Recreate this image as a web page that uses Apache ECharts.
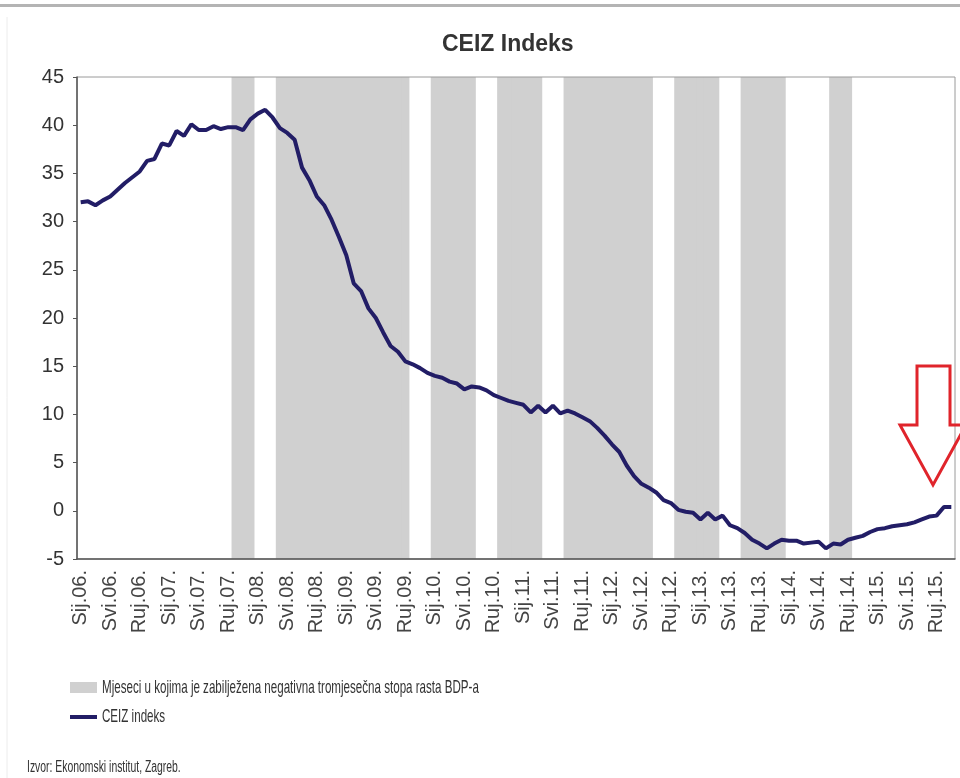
<!DOCTYPE html>
<html>
<head>
<meta charset="utf-8">
<script src="https://cdn.jsdelivr.net/npm/echarts@6/dist/echarts.min.js"></script>
<style>
html,body{margin:0;padding:0;background:#fff;}
#chart{width:960px;height:778px;}
</style>
</head>
<body>
<div id="chart"></div>
<script>
// Month abbreviations (Croatian) and years used to build the monthly categories
const monthAbbr = ['Sij','Velj','Ožu','Tra','Svi','Lip','Srp','Kol','Ruj','Lis','Stu','Pro'];
const years = ['06','07','08','09','10','11','12','13','14','15'];
const lastMonthCount = 119; // Sij.06. – Stu.15.

// CEIZ indeks, monthly values from Sij.06.
const ceizValues = [
  32.0, 32.1, 31.7, 32.2, 32.6, 33.3, 34.0, 34.6, 35.2, 36.3, 36.5, 38.1,
  37.9, 39.4, 38.9, 40.1, 39.5, 39.5, 39.9, 39.6, 39.8, 39.8, 39.5, 40.6,
  41.2, 41.6, 40.8, 39.7, 39.2, 38.5, 35.6, 34.3, 32.6, 31.7, 30.2, 28.4,
  26.5, 23.6, 22.8, 21.0, 20.0, 18.5, 17.1, 16.5, 15.5, 15.2, 14.8, 14.3,
  14.0, 13.8, 13.4, 13.2, 12.6, 12.9, 12.8, 12.5, 12.0, 11.7, 11.4, 11.2,
  11.0, 10.2, 10.9, 10.2, 10.9, 10.1, 10.4, 10.1, 9.7, 9.3, 8.6, 7.8,
  6.9, 6.1, 4.7, 3.6, 2.8, 2.4, 1.9, 1.1, 0.8, 0.1, -0.1, -0.2,
  -0.9, -0.2, -0.9, -0.5, -1.5, -1.8, -2.3, -3.0, -3.4, -3.9, -3.4, -3.0,
  -3.1, -3.1, -3.4, -3.3, -3.2, -3.9, -3.4, -3.5, -3.0, -2.8, -2.6, -2.2,
  -1.9, -1.8, -1.6, -1.5, -1.4, -1.2, -0.9, -0.6, -0.5, 0.4, 0.4
];

// Months with a negative quarter-on-quarter GDP growth rate (first, last)
const negativeGdpPeriods = [
  ['Lis.07.', 'Pro.07.'],
  ['Tra.08.', 'Ruj.09.'],
  ['Sij.10.', 'Lip.10.'],
  ['Lis.10.', 'Ožu.11.'],
  ['Srp.11.', 'Lip.12.'],
  ['Lis.12.', 'Ožu.13.'],
  ['Srp.13.', 'Pro.13.'],
  ['Srp.14.', 'Ruj.14.']
];

const yTicks = { min: -5, max: 45, interval: 5 };
const titleText = 'CEIZ Indeks';
const bandName = 'Mjeseci u kojima je zabilježena negativna tromjesečna stopa rasta BDP-a';
const lineName = 'CEIZ indeks';
const sourceText = 'Izvor: Ekonomski institut, Zagreb.';

// build categories
const categories = [];
years.forEach(y => monthAbbr.forEach(m => categories.push(m + '.' + y + '.')));
categories.length = lastMonthCount;

const bandFlags = categories.map(() => '-');
negativeGdpPeriods.forEach(([a, b]) => {
  const s = categories.indexOf(a), e = categories.indexOf(b);
  for (let i = s; i <= e; i++) bandFlags[i] = 1;
});

const font = 'Liberation Sans, Arial, sans-serif';
const bandColor = '#d0d0d0';
const lineColor = '#221d66';

const chart = echarts.init(document.getElementById('chart'), null, { renderer: 'canvas' });
chart.setOption({
  backgroundColor: '#ffffff',
  animation: false,
  title: { text: titleText, left: 437, top: 28,
    textStyle: { fontFamily: font, fontSize: 23, fontWeight: 'bold', color: '#333' } },
  grid: { left: 77, right: 5, top: 77, bottom: 219, show: true, z: 3,
          borderColor: '#9a9a9a', borderWidth: 1, backgroundColor: 'transparent' },
  xAxis: {
    type: 'category', data: categories, boundaryGap: true, z: 5,
    axisLine: { onZero: false, lineStyle: { color: '#555', width: 1.5 } },
    axisTick: { interval: 3, length: 4, lineStyle: { color: '#555' } },
    axisLabel: { interval: 3, rotate: 90, margin: 11, fontFamily: font,
                 fontSize: 20, color: '#444', padding: [9, 0, 0, 0] },
    splitLine: { show: false }
  },
  yAxis: [
    { type: 'value', min: yTicks.min, max: yTicks.max, interval: yTicks.interval, z: 5,
      axisLine: { show: true, lineStyle: { color: '#555', width: 1.5 } },
      axisTick: { show: true, length: 4, lineStyle: { color: '#555' } },
      axisLabel: { margin: 13, fontFamily: font, fontSize: 20, color: '#333' },
      splitLine: { show: false } },
    { type: 'value', min: 0, max: 1, show: false, splitLine: { show: false } }
  ],
  series: [
    { name: bandName, type: 'bar', yAxisIndex: 1, data: bandFlags,
      barWidth: 8.2, barCategoryGap: '0%',
      itemStyle: { color: bandColor },
      silent: true },
    { name: lineName, type: 'line', data: ceizValues, showSymbol: false,
      lineStyle: { color: lineColor, width: 4 }, itemStyle: { color: lineColor } }
  ],
  graphic: [
    { type: 'rect', shape: { x: 0, y: 4, width: 960, height: 3 },
      style: { fill: '#b4b4b4' }, silent: true },
    { type: 'line', shape: { x1: 7, y1: 17, x2: 7, y2: 778 },
      style: { stroke: '#ececec', lineWidth: 1 }, silent: true },
    // legend
    { type: 'rect', shape: { x: 70, y: 682, width: 27, height: 11 },
      style: { fill: bandColor }, silent: true },
    { type: 'text', x: 102, y: 688, scaleX: 0.61, silent: true,
      style: { text: bandName, fontFamily: font, fontSize: 19, fill: '#333',
               verticalAlign: 'middle', align: 'left' } },
    { type: 'line', shape: { x1: 70, y1: 717, x2: 97, y2: 717 },
      style: { stroke: lineColor, lineWidth: 4 }, silent: true },
    { type: 'text', x: 102, y: 717, scaleX: 0.61, silent: true,
      style: { text: lineName, fontFamily: font, fontSize: 19, fill: '#333',
               verticalAlign: 'middle', align: 'left' } },
    // source
    { type: 'text', x: 27, y: 768, scaleX: 0.65, silent: true,
      style: { text: sourceText, fontFamily: font, fontSize: 16, fill: '#333',
               verticalAlign: 'middle', align: 'left' } },
    // red arrow annotation
    { type: 'polygon', z: 100,
      shape: { points: [[917,366],[950,366],[950,425],[966,425],[933,485],[900,425],[917,425]] },
      style: { fill: 'rgba(255,255,255,0)', stroke: '#e0242b', lineWidth: 3 }, silent: true }
  ]
});
</script>
</body>
</html>
